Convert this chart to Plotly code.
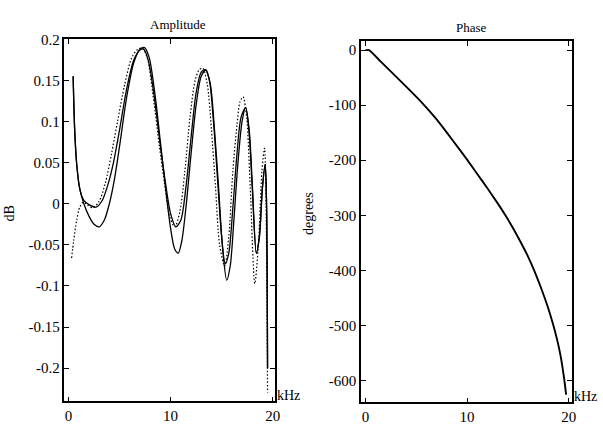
import plotly.graph_objects as go

# ---------------- data ----------------
amp_a_khz = [0.45, 0.6, 0.8, 1.1, 1.5, 2.0, 2.7, 3.3, 3.9, 4.4, 5.0, 5.7, 6.4, 7.0, 7.35, 7.8, 8.4, 9.0,
             9.5, 10.0, 10.5, 11.0, 11.5, 12.0, 12.5, 13.0, 13.4, 13.8, 14.2, 14.6, 15.0, 15.35, 15.7,
             16.1, 16.5, 16.9, 17.35, 17.7, 18.0, 18.4, 18.7, 19.0, 19.27, 19.4, 19.5]
amp_a_db = [0.155, 0.09, 0.048, 0.018, 0.004, -0.001, -0.004, 0.004, 0.025, 0.05, 0.09, 0.14, 0.175,
            0.187, 0.188, 0.175, 0.13, 0.07, 0.025, -0.012, -0.028, -0.02, 0.02, 0.08, 0.135, 0.16,
            0.163, 0.15, 0.10, 0.03, -0.04, -0.073, -0.06, -0.005, 0.06, 0.105, 0.117, 0.085, 0.02,
            -0.06, -0.04, 0.02, 0.048, 0.0, -0.2]

amp_b_khz = [0.45, 0.6, 0.8, 1.1, 1.5, 2.0, 2.5, 3.0, 3.5, 4.0, 4.5, 5.0, 5.7, 6.4, 7.0, 7.45, 7.9, 8.5,
             9.0, 9.5, 10.0, 10.4, 10.75, 11.1, 11.5, 12.0, 12.5, 13.0, 13.45, 13.9, 14.3, 14.7, 15.1,
             15.5, 15.85, 16.2, 16.6, 17.0, 17.35, 17.7, 18.0, 18.4, 18.7, 19.0, 19.27, 19.4, 19.5]
amp_b_db = [0.155, 0.09, 0.048, 0.018, 0.0, -0.015, -0.025, -0.028, -0.02, 0.0, 0.03, 0.07, 0.13,
            0.172, 0.188, 0.19, 0.178, 0.13, 0.075, 0.02, -0.03, -0.055, -0.06, -0.045, -0.005, 0.06,
            0.12, 0.155, 0.163, 0.145, 0.09, 0.02, -0.055, -0.093, -0.075, -0.02, 0.05, 0.1, 0.117,
            0.09, 0.025, -0.06, -0.04, 0.02, 0.048, 0.0, -0.2]

amp_c_khz = [0.3, 0.5, 0.8, 1.1, 1.48, 1.9, 2.4, 3.0, 3.6, 4.2, 4.8, 5.5, 6.2, 6.8, 7.25, 7.7, 8.3, 8.9,
             9.4, 9.9, 10.4, 10.9, 11.4, 11.9, 12.4, 12.8, 13.15, 13.6, 14.0, 14.4, 14.8, 15.3, 15.7,
             16.1, 16.5, 16.8, 17.1, 17.45, 17.8, 18.25, 18.6, 18.95, 19.2, 19.35, 19.5]
amp_c_db = [-0.066, -0.045, -0.02, -0.004, 0.002, -0.002, -0.005, 0.003, 0.025, 0.06, 0.1, 0.145,
            0.178, 0.188, 0.189, 0.178, 0.13, 0.07, 0.025, -0.015, -0.028, -0.01, 0.04, 0.105, 0.15,
            0.163, 0.165, 0.145, 0.09, 0.02, -0.05, -0.076, -0.04, 0.04, 0.095, 0.124, 0.13, 0.105,
            0.02, -0.097, -0.05, 0.04, 0.0675, 0.0, -0.23]

phase_khz = [0, 0.35, 1.5, 2.8, 4.2, 5.5, 7.0, 8.5, 10.0, 11.0, 12.0, 13.0, 13.8, 14.6, 15.4, 16.0,
             16.6, 17.2, 17.9, 18.45, 18.85, 19.2, 19.55, 19.75]
phase_deg = [0, 0, -21, -44.5, -70, -94.5, -126, -162, -199, -225, -251, -278, -301, -326, -353, -375,
             -400, -428, -464, -497, -525, -555, -596, -626]

amp_ticks = [-0.2, -0.15, -0.1, -0.05, 0, 0.05, 0.1, 0.15, 0.2]
amp_tick_text = ["-0.2", "-0.15", "-0.1", "-0.05", "0", "0.05", "0.1", "0.15", "0.2"]
phase_ticks = [-600, -500, -400, -300, -200, -100, 0]
phase_tick_text = ["-600", "-500", "-400", "-300", "-200", "-100", "0"]
khz_ticks = [0, 10, 20]

# ---------------- figure ----------------
W, H = 603, 425


def px(x):
    return x / W


def py(y):
    return 1 - y / H


FONT = "Liberation Serif"

fig = go.Figure()
fig.add_trace(go.Scatter(x=amp_a_khz, y=amp_a_db, mode="lines", xaxis="x", yaxis="y",
                         line=dict(color="black", width=1.3, shape="spline", smoothing=0.8)))
fig.add_trace(go.Scatter(x=amp_b_khz, y=amp_b_db, mode="lines", xaxis="x", yaxis="y",
                         line=dict(color="black", width=1.3, shape="spline", smoothing=0.8)))
fig.add_trace(go.Scatter(x=amp_c_khz, y=amp_c_db, mode="lines", xaxis="x", yaxis="y",
                         line=dict(color="black", width=1.2, dash="1.5px,2px", shape="spline",
                                   smoothing=0.8)))
fig.add_trace(go.Scatter(x=phase_khz, y=phase_deg, mode="lines", xaxis="x2", yaxis="y2",
                         line=dict(color="black", width=1.9, shape="spline", smoothing=0.5)))

axis_common = dict(showgrid=False, zeroline=False, showline=True, linecolor="black", linewidth=1.5,
                   mirror="ticks", ticks="inside", ticklen=5, tickwidth=1, tickcolor="black",
                   tickfont=dict(family=FONT, size=15, color="black"))

fig.update_layout(
    width=W, height=H,
    margin=dict(l=0, r=0, t=0, b=0),
    paper_bgcolor="white", plot_bgcolor="white",
    showlegend=False,
    font=dict(family=FONT, color="black"),
    xaxis=dict(domain=[px(65), px(277)], range=[-0.4, 20.2], tickvals=khz_ticks, anchor="y",
               **axis_common),
    yaxis=dict(domain=[py(402), py(32)], range=[-0.2405, 0.2], tickvals=amp_ticks,
               ticktext=amp_tick_text, anchor="x", **axis_common),
    xaxis2=dict(domain=[px(364), px(577)], range=[-0.45, 20.35], tickvals=khz_ticks, anchor="y2",
                **axis_common),
    yaxis2=dict(domain=[py(403), py(34)], range=[-640, 16], tickvals=phase_ticks,
                ticktext=phase_tick_text, anchor="x2", **axis_common),
)

ann_font = dict(family=FONT, size=14, color="black")
annotations = [
    dict(text="Amplitude", x=px(179), y=py(17), xref="paper", yref="paper",
         showarrow=False, xanchor="center", yanchor="middle", font=dict(family=FONT, size=13)),
    dict(text="Phase", x=px(475), y=py(20), xref="paper", yref="paper",
         showarrow=False, xanchor="center", yanchor="middle", font=dict(family=FONT, size=13)),
    dict(text="dB", x=px(10), y=py(210), xref="paper", yref="paper", textangle=-90,
         showarrow=False, xanchor="center", yanchor="middle", font=ann_font),
    dict(text="degrees", x=px(311), y=py(210), xref="paper", yref="paper", textangle=-90,
         showarrow=False, xanchor="center", yanchor="middle", font=ann_font),
    dict(text="kHz", x=px(277), y=py(396), xref="paper", yref="paper",
         showarrow=False, xanchor="left", yanchor="middle", font=ann_font),
    dict(text="kHz", x=px(577), y=py(397), xref="paper", yref="paper",
         showarrow=False, xanchor="left", yanchor="middle", font=ann_font),
]
fig.update_layout(annotations=annotations)

# remove the browser's default page margin so the figure sits at the window origin
fig.write_html("out.html",
               config={"displayModeBar": False},
               post_script="document.body.style.margin='0';document.body.style.overflow='hidden';")
